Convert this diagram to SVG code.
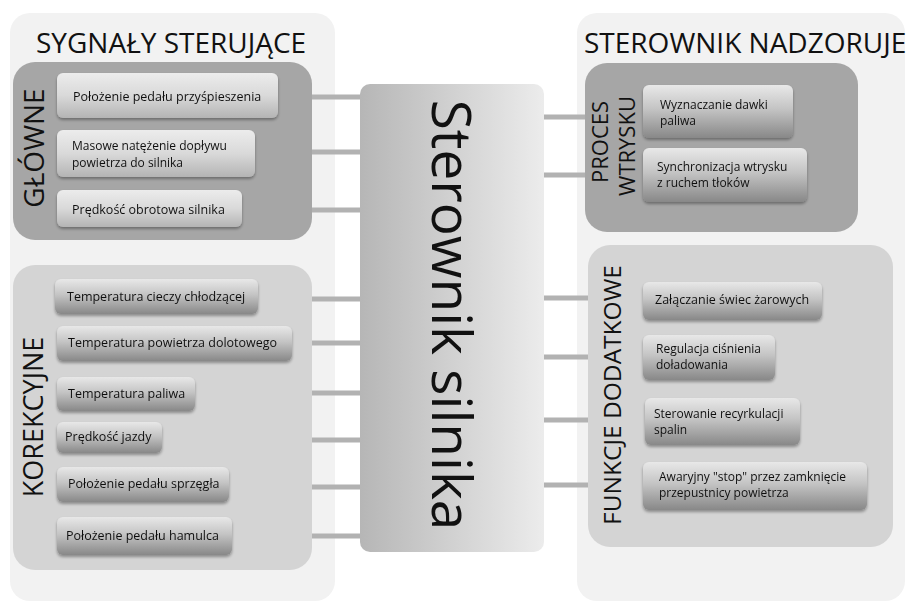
<svg xmlns="http://www.w3.org/2000/svg" width="910" height="604" viewBox="0 0 910 604">
  <defs>
    <linearGradient id="gBoxLight" x1="0" y1="0" x2="0" y2="1">
      <stop offset="0" stop-color="#ececec"/>
      <stop offset="0.5" stop-color="#d9d9d9"/>
      <stop offset="1" stop-color="#b4b4b4"/>
    </linearGradient>
    <linearGradient id="gBoxDark" x1="0" y1="0" x2="0" y2="1">
      <stop offset="0" stop-color="#e8e8e8"/>
      <stop offset="0.45" stop-color="#c4c4c4"/>
      <stop offset="1" stop-color="#888888"/>
    </linearGradient>
    <linearGradient id="gCore" x1="0" y1="0" x2="1" y2="0">
      <stop offset="0" stop-color="#b6b6b6"/>
      <stop offset="1" stop-color="#ececec"/>
    </linearGradient>
    <filter id="shadow" x="-10%" y="-20%" width="120%" height="150%">
      <feGaussianBlur in="SourceAlpha" stdDeviation="1.5"/>
      <feOffset dx="0" dy="2" result="b"/>
      <feComponentTransfer><feFuncA type="linear" slope="0.35"/></feComponentTransfer>
      <feMerge><feMergeNode/><feMergeNode in="SourceGraphic"/></feMerge>
    </filter>
  </defs>
  <style>
    .outer { fill: #f2f2f2; }
    .grpDark { fill: #a6a6a6; }
    .grpLight { fill: #d4d4d4; }
    .box { filter: url(#shadow); }
    .boxL { fill: url(#gBoxLight); }
    .boxD { fill: url(#gBoxDark); }
    .t { font-family: "Open Sans", "DejaVu Sans", sans-serif; font-size: 12.5px; fill: #111; }
    .t2 { font-family: "Open Sans", "DejaVu Sans", sans-serif; font-size: 12px; fill: #111; }
    .title { font-family: "Open Sans", "DejaVu Sans", sans-serif; font-size: 28px; fill: #111; }
    .side { font-family: "Open Sans", "DejaVu Sans", sans-serif; fill: #111; text-anchor: middle; }
    .conn line { stroke: #b2b2b2; stroke-width: 5; }
  </style>

  <rect width="910" height="604" fill="#ffffff"/>

  <!-- outer panels -->
  <g id="inputs">
    <rect class="outer" x="10" y="13" width="325" height="588" rx="20"/>
    <text class="title" x="36" y="53">SYGNAŁY STERUJĄCE</text>
  </g>
  <g id="supervision">
    <rect class="outer" x="577" y="13" width="328" height="588" rx="20"/>
    <text class="title" x="584" y="53">STEROWNIK NADZORUJE</text>
  </g>

  <!-- connectors -->
  <g id="connectors" class="conn">
    <line x1="310" y1="97" x2="362" y2="97"/>
    <line x1="310" y1="152" x2="362" y2="152"/>
    <line x1="310" y1="210" x2="362" y2="210"/>
    <line x1="310" y1="299" x2="362" y2="299"/>
    <line x1="310" y1="343" x2="362" y2="343"/>
    <line x1="310" y1="393" x2="362" y2="393"/>
    <line x1="310" y1="440" x2="362" y2="440"/>
    <line x1="310" y1="487" x2="362" y2="487"/>
    <line x1="310" y1="536" x2="362" y2="536"/>
    <line x1="542" y1="117" x2="588" y2="117"/>
    <line x1="542" y1="175" x2="588" y2="175"/>
    <line x1="542" y1="298" x2="590" y2="298"/>
    <line x1="542" y1="357" x2="590" y2="357"/>
    <line x1="542" y1="420" x2="590" y2="420"/>
    <line x1="542" y1="485" x2="590" y2="485"/>
  </g>

  <!-- main signals -->
  <g id="glowne">
    <rect class="grpDark" x="13" y="62" width="299" height="178" rx="22"/>
    <text class="side" font-size="28" transform="translate(44,148) rotate(-90)">GŁÓWNE</text>
  </g>
  <g id="pedal-gazu" class="box">
    <rect class="boxL" x="57" y="73" width="221" height="45" rx="6"/>
    <text class="t" x="73" y="101">Położenie pedału przyśpieszenia</text>
  </g>
  <g id="przeplyw-powietrza" class="box">
    <rect class="boxL" x="57" y="130" width="198" height="47" rx="6"/>
    <text class="t2" x="72" y="150">Masowe natężenie dopływu</text>
    <text class="t2" x="72" y="167">powietrza do silnika</text>
  </g>
  <g id="obroty" class="box">
    <rect class="boxL" x="57" y="190" width="185" height="37" rx="6"/>
    <text class="t" x="72" y="214">Prędkość obrotowa silnika</text>
  </g>

  <!-- correction signals -->
  <g id="korekcyjne">
    <rect class="grpLight" x="13" y="265" width="299" height="305" rx="22"/>
    <text class="side" font-size="27" transform="translate(43,417) rotate(-90)">KOREKCYJNE</text>
  </g>
  <g id="temp-cieczy" class="box">
    <rect class="boxD" x="55" y="279" width="203" height="35" rx="6"/>
    <text class="t" x="67" y="301">Temperatura cieczy chłodzącej</text>
  </g>
  <g id="temp-powietrza" class="box">
    <rect class="boxD" x="57" y="326" width="235" height="35" rx="6"/>
    <text class="t" x="68" y="347">Temperatura powietrza dolotowego</text>
  </g>
  <g id="temp-paliwa" class="box">
    <rect class="boxD" x="57" y="377" width="138" height="34" rx="6"/>
    <text class="t" x="68" y="398">Temperatura paliwa</text>
  </g>
  <g id="predkosc-jazdy" class="box">
    <rect class="boxD" x="57" y="422" width="105" height="31" rx="6"/>
    <text class="t" x="65" y="441">Prędkość jazdy</text>
  </g>
  <g id="pedal-sprzegla" class="box">
    <rect class="boxD" x="57" y="467" width="172" height="35" rx="6"/>
    <text class="t" x="68" y="488">Położenie pedału sprzęgła</text>
  </g>
  <g id="pedal-hamulca" class="box">
    <rect class="boxD" x="57" y="517" width="175" height="38" rx="6"/>
    <text class="t" x="66" y="540">Położenie pedału hamulca</text>
  </g>

  <!-- engine controller -->
  <g id="sterownik">
    <rect x="360" y="84" width="184" height="468" rx="10" fill="url(#gCore)"/>
    <text class="side" font-size="55" transform="translate(432,315) rotate(90)">Sterownik silnika</text>
  </g>

  <!-- injection process -->
  <g id="proces-wtrysku">
    <rect class="grpDark" x="585" y="63" width="273" height="169" rx="22"/>
    <text class="side" font-size="22" transform="translate(608,142) rotate(-90)">PROCES</text>
    <text class="side" font-size="22" transform="translate(635,146) rotate(-90)">WTRYSKU</text>
  </g>
  <g id="dawka" class="box">
    <rect class="boxD" x="643" y="85" width="150" height="53" rx="6"/>
    <text class="t2" x="660" y="109">Wyznaczanie dawki</text>
    <text class="t2" x="660" y="125">paliwa</text>
  </g>
  <g id="synchronizacja" class="box">
    <rect class="boxD" x="643" y="148" width="164" height="54" rx="6"/>
    <text class="t2" x="657" y="171">Synchronizacja wtrysku</text>
    <text class="t2" x="657" y="187">z ruchem tłoków</text>
  </g>

  <!-- additional functions -->
  <g id="funkcje-dodatkowe">
    <rect class="grpLight" x="588" y="245" width="305" height="302" rx="22"/>
    <text class="side" font-size="24.5" transform="translate(621,395) rotate(-90)">FUNKCJE DODATKOWE</text>
  </g>
  <g id="swiece" class="box">
    <rect class="boxD" x="643" y="282" width="179" height="38" rx="6"/>
    <text class="t" x="655" y="304">Załączanie świec żarowych</text>
  </g>
  <g id="doladowanie" class="box">
    <rect class="boxD" x="643" y="335" width="132" height="45" rx="6"/>
    <text class="t2" x="656" y="353">Regulacja ciśnienia</text>
    <text class="t2" x="656" y="369">doładowania</text>
  </g>
  <g id="recyrkulacja" class="box">
    <rect class="boxD" x="645" y="398" width="155" height="47" rx="6"/>
    <text class="t2" x="654" y="418">Sterowanie recyrkulacji</text>
    <text class="t2" x="654" y="434">spalin</text>
  </g>
  <g id="stop" class="box">
    <rect class="boxD" x="643" y="462" width="224" height="48" rx="6"/>
    <text class="t2" x="659" y="481">Awaryjny "stop" przez zamknięcie</text>
    <text class="t2" x="659" y="497">przepustnicy powietrza</text>
  </g>
</svg>
